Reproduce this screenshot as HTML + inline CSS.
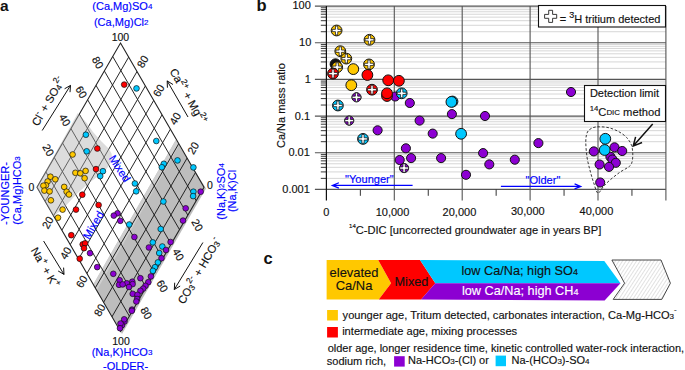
<!DOCTYPE html>
<html><head><meta charset="utf-8"><style>html,body{margin:0;padding:0;background:#fff;width:685px;height:370px;overflow:hidden}text{font-family:'Liberation Sans',sans-serif}</style></head>
<body><svg width="685" height="370" viewBox="0 0 685 370" style="display:block;font-family:'Liberation Sans',sans-serif"><polygon points="175.8,140.1 206,188.5 122,334 93,285" fill="#bdbdbd"/>
<polygon points="175.8,140.1 179,145.5 96.5,291 93,285" fill="#cfcfcf"/>
<clipPath id="dclip"><polygon points="120.5,43.0 204.0,187.25 120.5,331.5 37.0,187.25"/></clipPath>
<g clip-path="url(#dclip)"><path transform="translate(0.35,-1.25)" d="M42.84,206.00L131.43,52.97M42.84,168.50L131.43,321.53M51.20,220.43L139.78,67.39M51.20,154.07L139.78,307.11M59.54,234.85L148.13,81.82M59.54,139.65L148.13,292.68M67.90,249.28L156.48,96.24M67.90,125.22L156.48,278.26M76.25,263.70L164.83,110.67M76.25,110.80L164.83,263.83M84.59,278.13L173.18,125.09M84.59,96.37L173.18,249.41M92.94,292.55L181.53,139.52M92.94,81.95L181.53,234.98M101.29,306.98L189.88,153.94M101.29,67.52L189.88,220.56M109.65,321.40L198.23,168.37M109.65,53.10L198.23,206.13" stroke="#1a1a1a" stroke-width="0.95" fill="none"/></g>
<filter id="soft" x="-10%" y="-10%" width="120%" height="120%"><feGaussianBlur stdDeviation="0.7"/></filter>
<polygon points="120.5,43.0 204.0,187.25 120.5,331.5 37.0,187.25" stroke="#222" stroke-width="1.1" fill="none"/>
<polygon points="36.5,187.25 77.8,113 86.5,122.7 93,132 101.5,141.5 108.6,148.6 111.5,153.5 112,157 111,162 108,167 104,172 90.1,182 76.1,194.5 62,210 53.5,216" fill="#afafaf" fill-opacity="0.44" filter="url(#soft)"/>
<circle cx="124.2" cy="84.6" r="2.85" fill="#ff0000" stroke="#111" stroke-width="0.7"/>
<circle cx="136.5" cy="88.4" r="2.85" fill="#00c8ff" stroke="#111" stroke-width="0.7"/>
<circle cx="85.9" cy="134.7" r="2.85" fill="#00c8ff" stroke="#111" stroke-width="0.7"/>
<circle cx="156.3" cy="141" r="2.85" fill="#00c8ff" stroke="#111" stroke-width="0.7"/>
<circle cx="86.7" cy="151.3" r="2.85" fill="#00c8ff" stroke="#111" stroke-width="0.7"/>
<circle cx="97.3" cy="148.5" r="2.85" fill="#ff0000" stroke="#111" stroke-width="0.7"/>
<circle cx="72.6" cy="154.5" r="2.85" fill="#ffc800" stroke="#111" stroke-width="0.7"/>
<circle cx="85.6" cy="170.9" r="2.85" fill="#ffc800" stroke="#111" stroke-width="0.7"/>
<circle cx="75.4" cy="172.8" r="2.85" fill="#ffc800" stroke="#111" stroke-width="0.7"/>
<circle cx="80.3" cy="173.3" r="2.85" fill="#ffc800" stroke="#111" stroke-width="0.7"/>
<circle cx="84.6" cy="178.2" r="2.85" fill="#ffc800" stroke="#111" stroke-width="0.7"/>
<circle cx="96" cy="169.1" r="2.85" fill="#ff0000" stroke="#111" stroke-width="0.7"/>
<circle cx="102.9" cy="171.2" r="2.85" fill="#00c8ff" stroke="#111" stroke-width="0.7"/>
<circle cx="100.2" cy="176.1" r="2.85" fill="#00c8ff" stroke="#111" stroke-width="0.7"/>
<circle cx="50.4" cy="176.7" r="2.85" fill="#ffc800" stroke="#111" stroke-width="0.7"/>
<circle cx="55.3" cy="179.3" r="2.85" fill="#ffc800" stroke="#111" stroke-width="0.7"/>
<circle cx="47.6" cy="181.5" r="2.85" fill="#ffc800" stroke="#111" stroke-width="0.7"/>
<circle cx="46" cy="185.3" r="2.85" fill="#ffc800" stroke="#111" stroke-width="0.7"/>
<circle cx="43.4" cy="185.7" r="2.85" fill="#ffc800" stroke="#111" stroke-width="0.7"/>
<circle cx="44.4" cy="190.6" r="2.85" fill="#ffc800" stroke="#111" stroke-width="0.7"/>
<circle cx="49.6" cy="191.4" r="2.85" fill="#ffc800" stroke="#111" stroke-width="0.7"/>
<circle cx="50.9" cy="200.3" r="2.85" fill="#ffc800" stroke="#111" stroke-width="0.7"/>
<circle cx="64.2" cy="186.9" r="2.85" fill="#ffc800" stroke="#111" stroke-width="0.7"/>
<circle cx="66.6" cy="191.7" r="2.85" fill="#ffc800" stroke="#111" stroke-width="0.7"/>
<circle cx="69" cy="194.5" r="2.85" fill="#ffc800" stroke="#111" stroke-width="0.7"/>
<circle cx="62.6" cy="209.6" r="2.85" fill="#ffc800" stroke="#111" stroke-width="0.7"/>
<circle cx="58" cy="217.7" r="2.85" fill="#ffc800" stroke="#111" stroke-width="0.7"/>
<circle cx="82.3" cy="194.7" r="2.85" fill="#ff0000" stroke="#111" stroke-width="0.7"/>
<circle cx="76" cy="209.6" r="2.85" fill="#ff0000" stroke="#111" stroke-width="0.7"/>
<circle cx="98.6" cy="205" r="2.85" fill="#ff0000" stroke="#111" stroke-width="0.7"/>
<circle cx="71.3" cy="235.2" r="2.85" fill="#ff0000" stroke="#111" stroke-width="0.7"/>
<circle cx="82.7" cy="244.4" r="2.85" fill="#ff0000" stroke="#111" stroke-width="0.7"/>
<circle cx="85.1" cy="243.3" r="2.85" fill="#ff0000" stroke="#111" stroke-width="0.7"/>
<circle cx="84" cy="248.2" r="2.85" fill="#ff0000" stroke="#111" stroke-width="0.7"/>
<circle cx="79.7" cy="258.7" r="2.85" fill="#ff0000" stroke="#111" stroke-width="0.7"/>
<circle cx="90" cy="253.2" r="2.85" fill="#8c00d2" stroke="#111" stroke-width="0.7"/>
<circle cx="97.2" cy="267.1" r="2.85" fill="#8c00d2" stroke="#111" stroke-width="0.7"/>
<circle cx="177.5" cy="160.4" r="2.85" fill="#00c8ff" stroke="#111" stroke-width="0.7"/>
<circle cx="163.8" cy="163.8" r="2.85" fill="#00c8ff" stroke="#111" stroke-width="0.7"/>
<circle cx="161.8" cy="167.2" r="2.85" fill="#00c8ff" stroke="#111" stroke-width="0.7"/>
<circle cx="193.4" cy="167.4" r="2.85" fill="#00c8ff" stroke="#111" stroke-width="0.7"/>
<circle cx="134.9" cy="183.5" r="2.85" fill="#00c8ff" stroke="#111" stroke-width="0.7"/>
<circle cx="136.2" cy="191.3" r="2.85" fill="#00c8ff" stroke="#111" stroke-width="0.7"/>
<circle cx="193.4" cy="191.7" r="2.85" fill="#00c8ff" stroke="#111" stroke-width="0.7"/>
<circle cx="193.1" cy="196.1" r="2.85" fill="#00c8ff" stroke="#111" stroke-width="0.7"/>
<circle cx="200.7" cy="191.7" r="2.85" fill="#8c00d2" stroke="#111" stroke-width="0.7"/>
<circle cx="163.4" cy="201.5" r="2.85" fill="#00c8ff" stroke="#111" stroke-width="0.7"/>
<circle cx="185.7" cy="208.3" r="2.85" fill="#8c00d2" stroke="#111" stroke-width="0.7"/>
<circle cx="117.5" cy="213.3" r="2.85" fill="#8c00d2" stroke="#111" stroke-width="0.7"/>
<circle cx="113.8" cy="215.6" r="2.85" fill="#8c00d2" stroke="#111" stroke-width="0.7"/>
<circle cx="120.3" cy="220.8" r="2.85" fill="#8c00d2" stroke="#111" stroke-width="0.7"/>
<circle cx="183" cy="220.6" r="2.85" fill="#8c00d2" stroke="#111" stroke-width="0.7"/>
<circle cx="129.2" cy="224.5" r="2.85" fill="#00c8ff" stroke="#111" stroke-width="0.7"/>
<circle cx="160.7" cy="229" r="2.85" fill="#00c8ff" stroke="#111" stroke-width="0.7"/>
<circle cx="134.4" cy="237" r="2.85" fill="#8c00d2" stroke="#111" stroke-width="0.7"/>
<circle cx="170.6" cy="242" r="2.85" fill="#8c00d2" stroke="#111" stroke-width="0.7"/>
<circle cx="152.8" cy="242.4" r="2.85" fill="#00c8ff" stroke="#111" stroke-width="0.7"/>
<circle cx="148.9" cy="247.5" r="2.85" fill="#8c00d2" stroke="#111" stroke-width="0.7"/>
<circle cx="162.3" cy="246.5" r="2.85" fill="#00c8ff" stroke="#111" stroke-width="0.7"/>
<circle cx="166" cy="250" r="2.85" fill="#8c00d2" stroke="#111" stroke-width="0.7"/>
<circle cx="159.2" cy="253" r="2.85" fill="#00c8ff" stroke="#111" stroke-width="0.7"/>
<circle cx="161.5" cy="258.2" r="2.85" fill="#8c00d2" stroke="#111" stroke-width="0.7"/>
<circle cx="157.9" cy="262.4" r="2.85" fill="#00c8ff" stroke="#111" stroke-width="0.7"/>
<circle cx="155" cy="267.2" r="2.85" fill="#00c8ff" stroke="#111" stroke-width="0.7"/>
<circle cx="152.9" cy="270.8" r="2.85" fill="#00c8ff" stroke="#111" stroke-width="0.7"/>
<circle cx="113.3" cy="273.8" r="2.85" fill="#8c00d2" stroke="#111" stroke-width="0.7"/>
<circle cx="150.9" cy="276.4" r="2.85" fill="#8c00d2" stroke="#111" stroke-width="0.7"/>
<circle cx="140.4" cy="278.2" r="2.85" fill="#8c00d2" stroke="#111" stroke-width="0.7"/>
<circle cx="119.6" cy="280.2" r="2.85" fill="#8c00d2" stroke="#111" stroke-width="0.7"/>
<circle cx="148.3" cy="282.2" r="2.85" fill="#8c00d2" stroke="#111" stroke-width="0.7"/>
<circle cx="145.5" cy="285.8" r="2.85" fill="#8c00d2" stroke="#111" stroke-width="0.7"/>
<circle cx="132.3" cy="281.7" r="2.85" fill="#8c00d2" stroke="#111" stroke-width="0.7"/>
<circle cx="126.9" cy="283.3" r="2.85" fill="#8c00d2" stroke="#111" stroke-width="0.7"/>
<circle cx="119" cy="284.8" r="2.85" fill="#8c00d2" stroke="#111" stroke-width="0.7"/>
<circle cx="122.6" cy="284.4" r="2.85" fill="#8c00d2" stroke="#111" stroke-width="0.7"/>
<circle cx="132.6" cy="284.1" r="2.85" fill="#8c00d2" stroke="#111" stroke-width="0.7"/>
<circle cx="129" cy="287" r="2.85" fill="#8c00d2" stroke="#111" stroke-width="0.7"/>
<circle cx="143.2" cy="288.6" r="2.85" fill="#8c00d2" stroke="#111" stroke-width="0.7"/>
<circle cx="140.4" cy="290.8" r="2.85" fill="#8c00d2" stroke="#111" stroke-width="0.7"/>
<circle cx="132.7" cy="293.8" r="2.85" fill="#8c00d2" stroke="#111" stroke-width="0.7"/>
<circle cx="137.5" cy="294.8" r="2.85" fill="#8c00d2" stroke="#111" stroke-width="0.7"/>
<circle cx="137.1" cy="299" r="2.85" fill="#8c00d2" stroke="#111" stroke-width="0.7"/>
<circle cx="136.3" cy="301.5" r="2.85" fill="#8c00d2" stroke="#111" stroke-width="0.7"/>
<circle cx="132" cy="309.6" r="2.85" fill="#8c00d2" stroke="#111" stroke-width="0.7"/>
<circle cx="131.8" cy="310.8" r="2.85" fill="#8c00d2" stroke="#111" stroke-width="0.7"/>
<circle cx="124.5" cy="321.5" r="2.85" fill="#8c00d2" stroke="#111" stroke-width="0.7"/>
<circle cx="124.2" cy="319.3" r="2.85" fill="#8c00d2" stroke="#111" stroke-width="0.7"/>
<circle cx="122" cy="325.2" r="2.85" fill="#8c00d2" stroke="#111" stroke-width="0.7"/>
<circle cx="120.5" cy="323.5" r="2.85" fill="#8c00d2" stroke="#111" stroke-width="0.7"/>
<circle cx="120" cy="328.2" r="2.85" fill="#8c00d2" stroke="#111" stroke-width="0.7"/>
<text class="tx0" x="0.0" y="10.6" font-size="15.5" text-anchor="start" dominant-baseline="auto" fill="#111" font-weight="bold">a</text>
<text class="tx1" x="122.35" y="5.9" font-size="11" text-anchor="middle" dominant-baseline="central" fill="#0000ff" stroke="#0000ff" stroke-width="0.15" >(Ca,Mg)SO<tspan font-size="8">4</tspan></text>
<text class="tx2" x="121.25" y="21.7" font-size="11" text-anchor="middle" dominant-baseline="central" fill="#0000ff" stroke="#0000ff" stroke-width="0.15" >(Ca,Mg)Cl<tspan font-size="8">2</tspan></text>
<text class="tx3" x="120.4" y="36.55" font-size="10.5" text-anchor="middle" dominant-baseline="central" fill="#111" stroke="#111" stroke-width="0.15" >100</text>
<text class="tx4" x="121.0" y="340.9" font-size="10.5" text-anchor="middle" dominant-baseline="central" fill="#111" stroke="#111" stroke-width="0.15" >100</text>
<text class="tx5" x="122.0" y="352.15" font-size="11" text-anchor="middle" dominant-baseline="central" fill="#0000ff" stroke="#0000ff" stroke-width="0.15" >(Na,K)HCO<tspan font-size="8">3</tspan></text>
<text class="tx6" x="125.6" y="365.5" font-size="11" text-anchor="middle" dominant-baseline="central" fill="#0000ff" stroke="#0000ff" stroke-width="0.15" >-OLDER-</text>
<text class="tx7" x="31.5" y="187.0" font-size="10.5" text-anchor="middle" dominant-baseline="central" fill="#111" stroke="#111" stroke-width="0.15" >0</text>
<text class="tx8" x="210.0" y="184.5" font-size="10.5" text-anchor="middle" dominant-baseline="central" fill="#111" stroke="#111" stroke-width="0.15" >0</text>
<text class="tx9" x="4.65" y="193.55" font-size="11" text-anchor="middle" dominant-baseline="central" fill="#0000ff" stroke="#0000ff" stroke-width="0.15" transform="rotate(-90 4.65 193.55)" >-YOUNGER-</text>
<text class="tx10" x="17.05" y="190.5" font-size="11" text-anchor="middle" dominant-baseline="central" fill="#0000ff" stroke="#0000ff" stroke-width="0.15" transform="rotate(-90 17.05 190.5)" >(Ca,Mg)HCO<tspan font-size="8">3</tspan></text>
<text class="tx11" x="220.55" y="191.4" font-size="11" text-anchor="middle" dominant-baseline="central" fill="#0000ff" stroke="#0000ff" stroke-width="0.15" transform="rotate(-90 220.55 191.4)" >(Na,K)<tspan font-size="8">2</tspan>SO<tspan font-size="8">4</tspan></text>
<text class="tx12" x="232.25" y="191.0" font-size="11" text-anchor="middle" dominant-baseline="central" fill="#0000ff" stroke="#0000ff" stroke-width="0.15" transform="rotate(-90 232.25 191.0)" >(Na,K)Cl</text>
<text class="tx13" x="98.0" y="62.5" font-size="10.8" text-anchor="middle" dominant-baseline="central" fill="#111" stroke="#111" stroke-width="0.15" transform="rotate(60 98.0 62.5)" >80</text>
<text class="tx14" x="81.5" y="92.0" font-size="10.8" text-anchor="middle" dominant-baseline="central" fill="#111" stroke="#111" stroke-width="0.15" transform="rotate(60 81.5 92.0)" >60</text>
<text class="tx15" x="65.0" y="120.0" font-size="10.8" text-anchor="middle" dominant-baseline="central" fill="#111" stroke="#111" stroke-width="0.15" transform="rotate(60 65.0 120.0)" >40</text>
<text class="tx16" x="48.5" y="150.0" font-size="10.8" text-anchor="middle" dominant-baseline="central" fill="#111" stroke="#111" stroke-width="0.15" transform="rotate(60 48.5 150.0)" >20</text>
<text class="tx17" x="142.5" y="61.5" font-size="10.8" text-anchor="middle" dominant-baseline="central" fill="#111" stroke="#111" stroke-width="0.15" transform="rotate(-60 142.5 61.5)" >80</text>
<text class="tx18" x="158.5" y="90.5" font-size="10.8" text-anchor="middle" dominant-baseline="central" fill="#111" stroke="#111" stroke-width="0.15" transform="rotate(-60 158.5 90.5)" >60</text>
<text class="tx19" x="175.0" y="118.5" font-size="10.8" text-anchor="middle" dominant-baseline="central" fill="#111" stroke="#111" stroke-width="0.15" transform="rotate(-60 175.0 118.5)" >40</text>
<text class="tx20" x="193.0" y="148.0" font-size="10.8" text-anchor="middle" dominant-baseline="central" fill="#111" stroke="#111" stroke-width="0.15" transform="rotate(-60 193.0 148.0)" >20</text>
<text class="tx21" x="47.5" y="222.5" font-size="10.8" text-anchor="middle" dominant-baseline="central" fill="#111" stroke="#111" stroke-width="0.15" transform="rotate(-60 47.5 222.5)" >20</text>
<text class="tx22" x="65.5" y="253.0" font-size="10.8" text-anchor="middle" dominant-baseline="central" fill="#111" stroke="#111" stroke-width="0.15" transform="rotate(-60 65.5 253.0)" >40</text>
<text class="tx23" x="81.5" y="281.5" font-size="10.8" text-anchor="middle" dominant-baseline="central" fill="#111" stroke="#111" stroke-width="0.15" transform="rotate(-60 81.5 281.5)" >60</text>
<text class="tx24" x="99.5" y="310.0" font-size="10.8" text-anchor="middle" dominant-baseline="central" fill="#111" stroke="#111" stroke-width="0.15" transform="rotate(-60 99.5 310.0)" >80</text>
<text class="tx25" x="197.5" y="225.0" font-size="10.8" text-anchor="middle" dominant-baseline="central" fill="#111" stroke="#111" stroke-width="0.15" transform="rotate(60 197.5 225.0)" >20</text>
<text class="tx26" x="178.5" y="254.5" font-size="10.8" text-anchor="middle" dominant-baseline="central" fill="#111" stroke="#111" stroke-width="0.15" transform="rotate(60 178.5 254.5)" >40</text>
<text class="tx27" x="162.5" y="286.0" font-size="10.8" text-anchor="middle" dominant-baseline="central" fill="#111" stroke="#111" stroke-width="0.15" transform="rotate(60 162.5 286.0)" >60</text>
<text class="tx28" x="146.5" y="313.0" font-size="10.8" text-anchor="middle" dominant-baseline="central" fill="#111" stroke="#111" stroke-width="0.15" transform="rotate(60 146.5 313.0)" >80</text>
<text class="tx29" x="48.2" y="101.4" font-size="11.3" text-anchor="middle" dominant-baseline="central" fill="#111" stroke="#111" stroke-width="0.15" transform="rotate(-60 48.2 101.4)" >Cl<tspan font-size="8.3" dy="-4">-</tspan><tspan dy="4"> + SO</tspan><tspan font-size="8.3" dy="2">4</tspan><tspan font-size="8.3" dy="-6">2-</tspan></text>
<text class="tx30" x="188.1" y="96.1" font-size="11.3" text-anchor="middle" dominant-baseline="central" fill="#111" stroke="#111" stroke-width="0.15" transform="rotate(60 188.1 96.1)" >Ca<tspan font-size="8.3" dy="-4">2+</tspan><tspan dy="4"> + Mg</tspan><tspan font-size="8.3" dy="-4">2+</tspan></text>
<text class="tx31" x="45.1" y="267.5" font-size="11.3" text-anchor="middle" dominant-baseline="central" fill="#111" stroke="#111" stroke-width="0.15" transform="rotate(60 45.1 267.5)" >Na<tspan font-size="8.3" dy="-4">+</tspan><tspan dy="4"> + K</tspan><tspan font-size="8.3" dy="-4">+</tspan></text>
<text class="tx32" x="199.1" y="270.9" font-size="11.3" text-anchor="middle" dominant-baseline="central" fill="#111" stroke="#111" stroke-width="0.15" transform="rotate(-60 199.1 270.9)" >CO<tspan font-size="8.3" dy="2">3</tspan><tspan font-size="8.3" dy="-6">2-</tspan><tspan dy="4"> + HCO</tspan><tspan font-size="8.3" dy="2">3</tspan><tspan font-size="8.3" dy="-6">-</tspan></text>
<path d="M42.20,130.50L70.50,85.40M70.02,92.18L70.50,85.40L64.60,88.78" stroke="#111" stroke-width="1" fill="none"/>
<path d="M188.00,117.00L167.20,80.90M172.97,84.50L167.20,80.90L167.42,87.70" stroke="#111" stroke-width="1" fill="none"/>
<path d="M43.60,241.00L64.00,274.40M58.14,270.95L64.00,274.40L63.60,267.61" stroke="#111" stroke-width="1" fill="none"/>
<path d="M202.90,242.50L174.30,289.50M174.69,282.71L174.30,289.50L180.15,286.04" stroke="#111" stroke-width="1" fill="none"/>
<text class="tx33" x="119.9" y="168.5" font-size="11" text-anchor="middle" dominant-baseline="central" fill="#0000ff" stroke="#0000ff" stroke-width="0.15" transform="rotate(57 119.9 168.5)" >Mixed</text>
<text class="tx34" x="93.3" y="225.2" font-size="11.3" text-anchor="middle" dominant-baseline="central" fill="#0000ff" stroke="#0000ff" stroke-width="0.15" transform="rotate(-60 93.3 225.2)" >Mixed</text>
<path d="M326.4,178.36H665.90M326.4,171.91H665.90M326.4,167.33H665.90M326.4,163.78H665.90M326.4,160.87H665.90M326.4,158.42H665.90M326.4,156.29H665.90M326.4,154.42H665.90M326.4,141.70H665.90M326.4,135.25H665.90M326.4,130.67H665.90M326.4,127.12H665.90M326.4,124.21H665.90M326.4,121.76H665.90M326.4,119.63H665.90M326.4,117.76H665.90M326.4,105.04H665.90M326.4,98.59H665.90M326.4,94.01H665.90M326.4,90.46H665.90M326.4,87.55H665.90M326.4,85.10H665.90M326.4,82.97H665.90M326.4,81.10H665.90M326.4,68.38H665.90M326.4,61.93H665.90M326.4,57.35H665.90M326.4,53.80H665.90M326.4,50.89H665.90M326.4,48.44H665.90M326.4,46.31H665.90M326.4,44.44H665.90M326.4,31.72H665.90M326.4,25.27H665.90M326.4,20.69H665.90M326.4,17.14H665.90M326.4,14.23H665.90M326.4,11.78H665.90M326.4,9.65H665.90M326.4,7.78H665.90" stroke="#d6d6d6" stroke-width="1" fill="none"/>
<path d="M320.80,178.36H326.4M320.80,171.91H326.4M320.80,167.33H326.4M320.80,163.78H326.4M320.80,160.87H326.4M320.80,158.42H326.4M320.80,156.29H326.4M320.80,154.42H326.4M320.80,141.70H326.4M320.80,135.25H326.4M320.80,130.67H326.4M320.80,127.12H326.4M320.80,124.21H326.4M320.80,121.76H326.4M320.80,119.63H326.4M320.80,117.76H326.4M320.80,105.04H326.4M320.80,98.59H326.4M320.80,94.01H326.4M320.80,90.46H326.4M320.80,87.55H326.4M320.80,85.10H326.4M320.80,82.97H326.4M320.80,81.10H326.4M320.80,68.38H326.4M320.80,61.93H326.4M320.80,57.35H326.4M320.80,53.80H326.4M320.80,50.89H326.4M320.80,48.44H326.4M320.80,46.31H326.4M320.80,44.44H326.4M320.80,31.72H326.4M320.80,25.27H326.4M320.80,20.69H326.4M320.80,17.14H326.4M320.80,14.23H326.4M320.80,11.78H326.4M320.80,9.65H326.4M320.80,7.78H326.4" stroke="#222" stroke-width="0.9" fill="none"/>
<path d="M314.90,189.40H665.90M314.90,152.74H665.90M314.90,116.08H665.90M314.90,79.42H665.90M314.90,42.76H665.90M314.90,6.10H665.90" stroke="#555" stroke-width="1.2" fill="none"/>
<path d="M394.30,6.1V200.4M462.20,6.1V200.4M530.10,6.1V200.4M598.00,6.1V200.4M665.90,6.1V200.4" stroke="#555" stroke-width="1.1" fill="none"/>
<path d="M326.4,6.1V200.4" stroke="#111" stroke-width="1.2" fill="none"/>
<path d="M360.35,189.40V195.8M428.25,189.40V195.8M496.15,189.40V195.8M564.05,189.40V195.8M631.95,189.40V195.8" stroke="#333" stroke-width="1" fill="none"/>
<text class="tx35" x="310.75" y="4.8" font-size="11" text-anchor="end" dominant-baseline="central" fill="#111" stroke="#111" stroke-width="0.15" >100</text>
<text class="tx36" x="311.3" y="42.46" font-size="11" text-anchor="end" dominant-baseline="central" fill="#111" stroke="#111" stroke-width="0.15" >10</text>
<text class="tx37" x="310.9" y="78.52" font-size="11" text-anchor="end" dominant-baseline="central" fill="#111" stroke="#111" stroke-width="0.15" >1</text>
<text class="tx38" x="310.1" y="115.73" font-size="11" text-anchor="end" dominant-baseline="central" fill="#111" stroke="#111" stroke-width="0.15" >0.1</text>
<text class="tx39" x="309.85" y="152.19" font-size="11" text-anchor="end" dominant-baseline="central" fill="#111" stroke="#111" stroke-width="0.15" >0.01</text>
<text class="tx40" x="309.85" y="188.95" font-size="11" text-anchor="end" dominant-baseline="central" fill="#111" stroke="#111" stroke-width="0.15" >0.001</text>
<text class="tx41" x="326.3" y="211.8" font-size="11" text-anchor="middle" dominant-baseline="central" fill="#111" stroke="#111" stroke-width="0.15" >0</text>
<text class="tx42" x="392.5" y="211.6" font-size="11" text-anchor="middle" dominant-baseline="central" fill="#111" stroke="#111" stroke-width="0.15" >10,000</text>
<text class="tx43" x="459.45" y="211.6" font-size="11" text-anchor="middle" dominant-baseline="central" fill="#111" stroke="#111" stroke-width="0.15" >20,000</text>
<text class="tx44" x="527.8" y="210.65" font-size="11" text-anchor="middle" dominant-baseline="central" fill="#111" stroke="#111" stroke-width="0.15" >30,000</text>
<text class="tx45" x="596.45" y="211.15" font-size="11" text-anchor="middle" dominant-baseline="central" fill="#111" stroke="#111" stroke-width="0.15" >40,000</text>
<text class="tx46" x="475.15" y="230.05" font-size="11.13" text-anchor="middle" dominant-baseline="central" fill="#111" stroke="#111" stroke-width="0.15" ><tspan font-size="6.0" dy="-3.8">14</tspan><tspan dy="3.8">C-DIC [uncorrected groundwater age in years BP]</tspan></text>
<text class="tx47" x="280.55" y="105.55" font-size="11" text-anchor="middle" dominant-baseline="central" fill="#111" stroke="#111" stroke-width="0.15" transform="rotate(-90 280.55 105.55)" >Ca/Na mass ratio</text>
<text class="tx48" x="256.45" y="11.35" font-size="16.5" text-anchor="start" dominant-baseline="auto" fill="#111" font-weight="bold">b</text>
<rect x="538.5" y="5.5" width="127" height="21.5" fill="#fff" stroke="#111" stroke-width="1.1"/>
<path d="M548.7,10.3h3.9v4.1h4.1v3.9h-4.1v4.1h-3.9v-4.1h-4.1v-3.9h4.1z" fill="#fff" stroke="#222" stroke-width="0.9"/>
<text class="tx49" x="559.7" y="19.0" font-size="11" text-anchor="start" dominant-baseline="central" fill="#111" stroke="#111" stroke-width="0.15" >= <tspan font-size="9" dy="-4.5">3</tspan><tspan dy="4.5">H tritium detected</tspan></text>
<rect x="584.5" y="85.5" width="81" height="36" fill="#fff" stroke="#111" stroke-width="1.1"/>
<text class="tx50" x="624.45" y="93.4" font-size="11" text-anchor="middle" dominant-baseline="central" fill="#111" stroke="#111" stroke-width="0.15" >Detection limit</text>
<text class="tx51" x="625.05" y="112.2" font-size="11.2" text-anchor="middle" dominant-baseline="central" fill="#111" stroke="#111" stroke-width="0.15" ><tspan font-size="7.8" dy="-4">14</tspan><tspan dy="4">C</tspan><tspan font-size="7.9">DIC</tspan> method</text>
<path d="M652.70,124.00L633.20,146.10M635.60,136.88L633.20,146.10L642.05,142.57" stroke="#111" stroke-width="1.5" fill="none"/>
<path d="M597.8,193 C596.2,192.2 594.9,186.2 593.6,182.5 C592.3,178.8 591.3,175.2 590.2,171 C589.1,166.8 587.7,162.0 587,157 C586.3,152.0 585.7,145.2 585.8,141 C585.9,136.8 586.4,134.2 587.5,132 C588.6,129.8 590.6,128.7 592.6,127.8 C594.6,126.9 596.6,126.8 599.4,126.8 C602.1,126.8 605.9,127.0 609.1,127.8 C612.3,128.6 615.9,130.1 618.8,131.7 C621.7,133.3 624.5,135.2 626.6,137.5 C628.7,139.8 630.5,142.4 631.5,145.3 C632.5,148.2 632.8,151.9 632.8,155 C632.8,158.1 632.4,161.6 631.5,163.7 C630.6,165.8 629.6,166.1 627.6,167.6 C625.6,169.1 622.4,170.4 619.5,172.5 C616.6,174.6 612.8,177.6 610,180 C607.2,182.4 605.0,184.8 603,187 C601.0,189.2 599.4,193.8 597.8,193 Z" fill="none" stroke="#222" stroke-width="0.9" stroke-dasharray="2.6,1.8"/>
<path d="M412.60,185.40L332.30,185.40M338.90,182.70L332.30,185.40L338.90,188.10" stroke="#0000ff" stroke-width="1.2" fill="none"/>
<text class="tx52" x="369.4" y="178.8" font-size="11.05" text-anchor="middle" dominant-baseline="central" fill="#0000ff" stroke="#0000ff" stroke-width="0.15" >"Younger"</text>
<path d="M500.90,186.40L580.80,186.40M574.60,188.90L580.80,186.40L574.60,183.90" stroke="#0000ff" stroke-width="1.2" fill="none"/>
<text class="tx53" x="542.9" y="179.6" font-size="11.05" text-anchor="middle" dominant-baseline="central" fill="#0000ff" stroke="#0000ff" stroke-width="0.15" >"Older"</text>
<circle cx="336.6" cy="30.5" r="5.4" fill="#ffc800" stroke="#111" stroke-width="1"/>
<path d="M335.45000000000005,26.1h2.3v3.2500000000000004h3.2500000000000004v2.3h-3.2500000000000004v3.2500000000000004h-2.3v-3.2500000000000004h-3.2500000000000004v-2.3h3.2500000000000004z" fill="#fff" stroke="#1a1a1a" stroke-width="0.8"/>
<circle cx="369.5" cy="39.8" r="5.4" fill="#ffc800" stroke="#111" stroke-width="1"/>
<path d="M368.35,35.4h2.3v3.2500000000000004h3.2500000000000004v2.3h-3.2500000000000004v3.2500000000000004h-2.3v-3.2500000000000004h-3.2500000000000004v-2.3h3.2500000000000004z" fill="#fff" stroke="#1a1a1a" stroke-width="0.8"/>
<circle cx="340.3" cy="51.2" r="5.4" fill="#ffc800" stroke="#111" stroke-width="1"/>
<path d="M339.15000000000003,46.800000000000004h2.3v3.2500000000000004h3.2500000000000004v2.3h-3.2500000000000004v3.2500000000000004h-2.3v-3.2500000000000004h-3.2500000000000004v-2.3h3.2500000000000004z" fill="#fff" stroke="#1a1a1a" stroke-width="0.8"/>
<circle cx="346.3" cy="58.6" r="5.4" fill="#ffc800" stroke="#111" stroke-width="1"/>
<path d="M345.15000000000003,54.2h2.3v3.2500000000000004h3.2500000000000004v2.3h-3.2500000000000004v3.2500000000000004h-2.3v-3.2500000000000004h-3.2500000000000004v-2.3h3.2500000000000004z" fill="#fff" stroke="#1a1a1a" stroke-width="0.8"/>
<circle cx="369.0" cy="64.4" r="5.4" fill="#ffc800" stroke="#111" stroke-width="1"/>
<path d="M367.85,60.00000000000001h2.3v3.2500000000000004h3.2500000000000004v2.3h-3.2500000000000004v3.2500000000000004h-2.3v-3.2500000000000004h-3.2500000000000004v-2.3h3.2500000000000004z" fill="#fff" stroke="#1a1a1a" stroke-width="0.8"/>
<circle cx="335.5" cy="64.2" r="5.4" fill="#111" stroke="#111" stroke-width="1"/>
<circle cx="337.2" cy="67.2" r="5.4" fill="#ffc800" stroke="#111" stroke-width="1"/>
<path d="M336.05,62.800000000000004h2.3v3.2500000000000004h3.2500000000000004v2.3h-3.2500000000000004v3.2500000000000004h-2.3v-3.2500000000000004h-3.2500000000000004v-2.3h3.2500000000000004z" fill="#fff" stroke="#1a1a1a" stroke-width="0.8"/>
<circle cx="353.3" cy="69.1" r="5.4" fill="#ffc800" stroke="#111" stroke-width="1"/>
<circle cx="333.0" cy="73.6" r="5.4" fill="#ff0000" stroke="#111" stroke-width="1"/>
<path d="M331.85,69.19999999999999h2.3v3.2500000000000004h3.2500000000000004v2.3h-3.2500000000000004v3.2500000000000004h-2.3v-3.2500000000000004h-3.2500000000000004v-2.3h3.2500000000000004z" fill="#fff" stroke="#1a1a1a" stroke-width="0.8"/>
<circle cx="367.4" cy="75.0" r="5.4" fill="#ff0000" stroke="#111" stroke-width="1"/>
<circle cx="388.2" cy="80.3" r="5.4" fill="#ff0000" stroke="#111" stroke-width="1"/>
<circle cx="398.9" cy="80.8" r="5.4" fill="#ff0000" stroke="#111" stroke-width="1"/>
<circle cx="351.3" cy="85.2" r="5.4" fill="#ffc800" stroke="#111" stroke-width="1"/>
<circle cx="372.0" cy="89.7" r="5.4" fill="#ff0000" stroke="#111" stroke-width="1"/>
<path d="M370.85,85.3h2.3v3.2500000000000004h3.2500000000000004v2.3h-3.2500000000000004v3.2500000000000004h-2.3v-3.2500000000000004h-3.2500000000000004v-2.3h3.2500000000000004z" fill="#fff" stroke="#1a1a1a" stroke-width="0.8"/>
<circle cx="395.2" cy="96.5" r="4.55" fill="#8c00d2" stroke="#111" stroke-width="1"/>
<circle cx="387.0" cy="96.0" r="5.4" fill="#ff0000" stroke="#111" stroke-width="1"/>
<circle cx="387.0" cy="93.3" r="5.4" fill="#ff0000" stroke="#111" stroke-width="1"/>
<circle cx="401.7" cy="93.3" r="5.4" fill="#00c8ff" stroke="#111" stroke-width="1"/>
<path d="M400.55,88.89999999999999h2.3v3.2500000000000004h3.2500000000000004v2.3h-3.2500000000000004v3.2500000000000004h-2.3v-3.2500000000000004h-3.2500000000000004v-2.3h3.2500000000000004z" fill="#fff" stroke="#1a1a1a" stroke-width="0.8"/>
<circle cx="356.5" cy="97.3" r="4.55" fill="#8c00d2" stroke="#111" stroke-width="1"/>
<path d="M355.35,92.89999999999999h2.3v3.2500000000000004h3.2500000000000004v2.3h-3.2500000000000004v3.2500000000000004h-2.3v-3.2500000000000004h-3.2500000000000004v-2.3h3.2500000000000004z" fill="#fff" stroke="#1a1a1a" stroke-width="0.8"/>
<circle cx="409.8" cy="103.0" r="4.55" fill="#8c00d2" stroke="#111" stroke-width="1"/>
<circle cx="419.6" cy="120.6" r="4.55" fill="#8c00d2" stroke="#111" stroke-width="1"/>
<circle cx="337.9" cy="105.5" r="5.4" fill="#00c8ff" stroke="#111" stroke-width="1"/>
<path d="M336.75,101.1h2.3v3.2500000000000004h3.2500000000000004v2.3h-3.2500000000000004v3.2500000000000004h-2.3v-3.2500000000000004h-3.2500000000000004v-2.3h3.2500000000000004z" fill="#fff" stroke="#1a1a1a" stroke-width="0.8"/>
<circle cx="452.5" cy="101.5" r="5.4" fill="#00c8ff" stroke="#111" stroke-width="1"/>
<circle cx="451.4" cy="101.9" r="5.4" fill="#00c8ff" stroke="#111" stroke-width="1"/>
<circle cx="571.0" cy="92.0" r="4.55" fill="#8c00d2" stroke="#111" stroke-width="1"/>
<circle cx="451.9" cy="114.1" r="4.55" fill="#8c00d2" stroke="#111" stroke-width="1"/>
<circle cx="485.0" cy="116.0" r="4.55" fill="#8c00d2" stroke="#111" stroke-width="1"/>
<circle cx="349.2" cy="120.6" r="4.55" fill="#8c00d2" stroke="#111" stroke-width="1"/>
<path d="M348.05,116.19999999999999h2.3v3.2500000000000004h3.2500000000000004v2.3h-3.2500000000000004v3.2500000000000004h-2.3v-3.2500000000000004h-3.2500000000000004v-2.3h3.2500000000000004z" fill="#fff" stroke="#1a1a1a" stroke-width="0.8"/>
<circle cx="377.6" cy="130.3" r="4.55" fill="#8c00d2" stroke="#111" stroke-width="1"/>
<circle cx="363.0" cy="138.9" r="5.4" fill="#00c8ff" stroke="#111" stroke-width="1"/>
<path d="M361.85,134.5h2.3v3.2500000000000004h3.2500000000000004v2.3h-3.2500000000000004v3.2500000000000004h-2.3v-3.2500000000000004h-3.2500000000000004v-2.3h3.2500000000000004z" fill="#fff" stroke="#1a1a1a" stroke-width="0.8"/>
<circle cx="432.7" cy="133.6" r="4.55" fill="#8c00d2" stroke="#111" stroke-width="1"/>
<circle cx="461.1" cy="133.8" r="5.4" fill="#00c8ff" stroke="#111" stroke-width="1"/>
<circle cx="538.4" cy="143.1" r="4.55" fill="#8c00d2" stroke="#111" stroke-width="1"/>
<circle cx="405.9" cy="148.3" r="4.55" fill="#8c00d2" stroke="#111" stroke-width="1"/>
<circle cx="399.7" cy="160.0" r="4.55" fill="#8c00d2" stroke="#111" stroke-width="1"/>
<circle cx="411.1" cy="158.1" r="4.55" fill="#8c00d2" stroke="#111" stroke-width="1"/>
<circle cx="441.1" cy="158.1" r="4.55" fill="#8c00d2" stroke="#111" stroke-width="1"/>
<circle cx="404.1" cy="168.1" r="4.55" fill="#8c00d2" stroke="#111" stroke-width="1"/>
<path d="M402.95000000000005,163.7h2.3v3.2500000000000004h3.2500000000000004v2.3h-3.2500000000000004v3.2500000000000004h-2.3v-3.2500000000000004h-3.2500000000000004v-2.3h3.2500000000000004z" fill="#fff" stroke="#1a1a1a" stroke-width="0.8"/>
<circle cx="466.0" cy="174.8" r="4.55" fill="#8c00d2" stroke="#111" stroke-width="1"/>
<circle cx="483.1" cy="153.1" r="4.55" fill="#8c00d2" stroke="#111" stroke-width="1"/>
<circle cx="489.3" cy="164.4" r="4.55" fill="#8c00d2" stroke="#111" stroke-width="1"/>
<circle cx="514.8" cy="159.7" r="4.55" fill="#8c00d2" stroke="#111" stroke-width="1"/>
<circle cx="593.8" cy="151.4" r="4.55" fill="#8c00d2" stroke="#111" stroke-width="1"/>
<circle cx="614.5" cy="147.3" r="4.55" fill="#8c00d2" stroke="#111" stroke-width="1"/>
<circle cx="622.2" cy="151.0" r="4.55" fill="#8c00d2" stroke="#111" stroke-width="1"/>
<circle cx="610.4" cy="156.8" r="4.55" fill="#8c00d2" stroke="#111" stroke-width="1"/>
<circle cx="612.4" cy="159.5" r="4.55" fill="#8c00d2" stroke="#111" stroke-width="1"/>
<circle cx="615.8" cy="162.8" r="4.55" fill="#8c00d2" stroke="#111" stroke-width="1"/>
<circle cx="599.6" cy="164.5" r="4.55" fill="#8c00d2" stroke="#111" stroke-width="1"/>
<circle cx="609.0" cy="166.9" r="4.55" fill="#8c00d2" stroke="#111" stroke-width="1"/>
<circle cx="605.3" cy="138.8" r="5.4" fill="#00c8ff" stroke="#111" stroke-width="1"/>
<circle cx="604.7" cy="150.0" r="5.4" fill="#00c8ff" stroke="#111" stroke-width="1"/>
<circle cx="600.2" cy="182.5" r="4.55" fill="#8c00d2" stroke="#111" stroke-width="1"/>
<text class="tx54" x="263.4" y="263.55" font-size="16.5" text-anchor="start" dominant-baseline="auto" fill="#111" font-weight="bold">c</text>
<polygon points="326.6,260.1 378.2,260.1 391.1,283.3 378.8,299.6 326.6,299.6" fill="#ffc800"/>
<polygon points="378.2,260.1 420,260.1 435.3,283.3 421.1,299.6 378.8,299.6 391.1,283.3" fill="#ff0000"/>
<polygon points="420,260.1 604.3,261.1 620.5,283.3 435.3,283.3" fill="#00c8ff"/>
<polygon points="435.3,283.3 620.5,283.3 604.6,300.6 421.1,299.6" fill="#8c00d2"/>
<defs><pattern id="hatch" patternUnits="userSpaceOnUse" width="2.95" height="4" patternTransform="rotate(33)"><line x1="0" y1="0" x2="0" y2="4" stroke="#aaa" stroke-width="0.7"/></pattern></defs>
<polygon points="611.9,260 661,260 670.4,283.2 661.8,299.4 613.2,299.4 624.6,283.2" fill="url(#hatch)" stroke="#333" stroke-width="0.9"/>
<text class="tx55" x="354.05" y="272.75" font-size="12.95" text-anchor="middle" dominant-baseline="central" fill="#111" stroke="#111" stroke-width="0.15" >elevated</text>
<text class="tx56" x="354.05" y="285.65" font-size="12.95" text-anchor="middle" dominant-baseline="central" fill="#111" stroke="#111" stroke-width="0.15" >Ca/Na</text>
<text class="tx57" x="411.45" y="282.25" font-size="12.7" text-anchor="middle" dominant-baseline="central" fill="#111" stroke="#111" stroke-width="0.15" >Mixed</text>
<text class="tx58" x="461.5" y="274.65" font-size="12.7" text-anchor="start" dominant-baseline="auto" fill="#111" stroke="#111" stroke-width="0.15" >low Ca/Na; high SO<tspan font-size="9">4</tspan></text>
<text class="tx59" x="462.0" y="294.8" font-size="12.7" text-anchor="start" dominant-baseline="auto" fill="#fff" stroke="#fff" stroke-width="0.15" >low Ca/Na; high CH<tspan font-size="9">4</tspan></text>
<rect x="327.1" y="310" width="10.8" height="10.5" fill="#ffc800"/>
<rect x="327.1" y="327" width="10.8" height="10.5" fill="#ff0000"/>
<rect x="394.1" y="356.2" width="10.6" height="10.4" fill="#8c00d2"/>
<rect x="495.6" y="355.6" width="10.4" height="10.6" fill="#00c8ff"/>
<text class="tx60" x="342.6" y="319.2" font-size="11.08" text-anchor="start" dominant-baseline="auto" fill="#111" stroke="#111" stroke-width="0.15" >younger age, Tritum detected, carbonates interaction, Ca-Mg-HCO<tspan font-size="8">3</tspan><tspan font-size="8" dy="-7">-</tspan></text>
<text class="tx61" x="342.15" y="335.4" font-size="11.13" text-anchor="start" dominant-baseline="auto" fill="#111" stroke="#111" stroke-width="0.15" >intermediate age, mixing processes</text>
<text class="tx62" x="327.7" y="351.7" font-size="11" text-anchor="start" dominant-baseline="auto" fill="#111" stroke="#111" stroke-width="0.15" >older age, longer residence time, kinetic controlled water-rock interaction,</text>
<text class="tx63" x="326.8" y="364.6" font-size="11" text-anchor="start" dominant-baseline="auto" fill="#111" stroke="#111" stroke-width="0.15" >sodium rich,</text>
<text class="tx64" x="408.05" y="364.4" font-size="11" text-anchor="start" dominant-baseline="auto" fill="#111" stroke="#111" stroke-width="0.15" >Na-HCO<tspan font-size="8">3</tspan>-(Cl) or</text>
<text class="tx65" x="511.55" y="364.4" font-size="11" text-anchor="start" dominant-baseline="auto" fill="#111" stroke="#111" stroke-width="0.15" >Na-(HCO<tspan font-size="8">3</tspan>)-SO<tspan font-size="8">4</tspan></text></svg></body></html>
